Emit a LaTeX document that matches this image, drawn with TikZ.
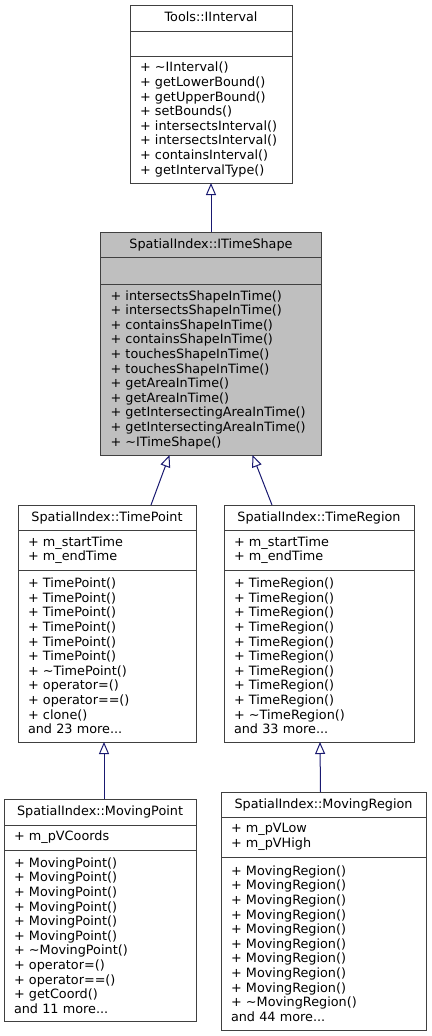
\documentclass[tikz,border=0pt]{standalone}
\usepackage{fontspec}
\setmainfont{DejaVu Sans}
\usetikzlibrary{arrows.meta, positioning}
\definecolor{navy}{HTML}{191970}
\tikzstyle{every node}=[font=\fontsize{12.8pt}{14.6pt}\selectfont]
\tikzstyle{cls}=[draw=black!75, fill=white, rectangle, line width=1pt, outer sep=0pt, inner xsep=10pt, inner ysep=0pt]
\tikzstyle{head}=[cls, minimum height=25pt, text height=10pt, text depth=3pt]
\tikzstyle{body}=[cls, align=left]
\tikzstyle{inherit}=[draw=navy, line width=1pt, -{Triangle[open, length=12pt, width=10pt]}]
\newcommand{\dtor}{\textasciitilde}

\begin{document}
\begin{tikzpicture}
    \useasboundingbox (0,0) rectangle (431pt,-1036pt);
    % Tools::IInterval
    \node[head, minimum width=162pt, minimum height=26pt] (ii) at (211pt,-18pt) {Tools::IInterval};
    \node[body, text width=142pt, minimum height=25pt, below=0pt of ii] (iia) {};
    \node[body, text width=142pt, minimum height=127pt, below=0pt of iia] (iim) {+ \dtor IInterval()\\+ getLowerBound()\\+ getUpperBound()\\+ setBounds()\\+ intersectsInterval()\\+ intersectsInterval()\\+ containsInterval()\\+ getIntervalType()};
    % SpatialIndex::ITimeShape
    \node[head, fill=black!25, minimum width=221pt, below=49pt of iim] (ts) {SpatialIndex::ITimeShape};
    \node[body, fill=black!25, text width=201pt, minimum height=27pt, below=0pt of ts] (tsa) {};
    \node[body, fill=black!25, text width=201pt, minimum height=171pt, below=0pt of tsa] (tsm) {+ intersectsShapeInTime()\\+ intersectsShapeInTime()\\+ containsShapeInTime()\\+ containsShapeInTime()\\+ touchesShapeInTime()\\+ touchesShapeInTime()\\+ getAreaInTime()\\+ getAreaInTime()\\+ getIntersectingAreaInTime()\\+ getIntersectingAreaInTime()\\+ \dtor ITimeShape()};
    % SpatialIndex::TimePoint
    \node[head, minimum width=178pt, below=50pt of tsm, xshift=-104pt] (tp) {SpatialIndex::TimePoint};
    \node[body, text width=158pt, minimum height=40pt, below=0pt of tp] (tpa) {+ m\_startTime\\+ m\_endTime};
    \node[body, text width=158pt, minimum height=172pt, below=0pt of tpa] (tpm) {+ TimePoint()\\+ TimePoint()\\+ TimePoint()\\+ TimePoint()\\+ TimePoint()\\+ TimePoint()\\+ \dtor TimePoint()\\+ operator=()\\+ operator==()\\+ clone()\\and 23 more...};
    % SpatialIndex::TimeRegion
    \node[head, minimum width=190pt, below=50pt of tsm, xshift=108pt] (tr) {SpatialIndex::TimeRegion};
    \node[body, text width=170pt, minimum height=40pt, below=0pt of tr] (tra) {+ m\_startTime\\+ m\_endTime};
    \node[body, text width=170pt, minimum height=172pt, below=0pt of tra] (trm) {+ TimeRegion()\\+ TimeRegion()\\+ TimeRegion()\\+ TimeRegion()\\+ TimeRegion()\\+ TimeRegion()\\+ TimeRegion()\\+ TimeRegion()\\+ TimeRegion()\\+ \dtor TimeRegion()\\and 33 more...};
    % SpatialIndex::MovingPoint
    \node[head, minimum width=192pt, minimum height=26pt, below=57pt of tpm, xshift=-7pt] (mp) {SpatialIndex::MovingPoint};
    \node[body, text width=172pt, minimum height=25pt, below=0pt of mp] (mpa) {+ m\_pVCoords};
    \node[body, text width=172pt, minimum height=171pt, below=0pt of mpa] (mpm) {+ MovingPoint()\\+ MovingPoint()\\+ MovingPoint()\\+ MovingPoint()\\+ MovingPoint()\\+ MovingPoint()\\+ \dtor MovingPoint()\\+ operator=()\\+ operator==()\\+ getCoord()\\and 11 more...};
    % SpatialIndex::MovingRegion
    \node[head, minimum width=205pt, below=50pt of trm, xshift=4.5pt] (mr) {SpatialIndex::MovingRegion};
    \node[body, text width=185pt, minimum height=40pt, below=0pt of mr] (mra) {+ m\_pVLow\\+ m\_pVHigh};
    \node[body, text width=185pt, minimum height=173pt, below=0pt of mra] (mrm) {+ MovingRegion()\\+ MovingRegion()\\+ MovingRegion()\\+ MovingRegion()\\+ MovingRegion()\\+ MovingRegion()\\+ MovingRegion()\\+ MovingRegion()\\+ MovingRegion()\\+ \dtor MovingRegion()\\and 44 more...};
    % inheritance
    \draw[inherit] (ts) -- (iim);
    \draw[inherit] ([xshift=44pt]tp.north) -- ([xshift=-41.5pt]tsm.south);
    \draw[inherit] ([xshift=-47pt]tr.north) -- ([xshift=41.5pt]tsm.south);
    \draw[inherit] ([xshift=4pt]mp.north) -- ([xshift=-3pt]tpm.south);
    \draw[inherit] ([xshift=-3pt]mr.north) -- ([xshift=1pt]trm.south);
\end{tikzpicture}
\end{document}
